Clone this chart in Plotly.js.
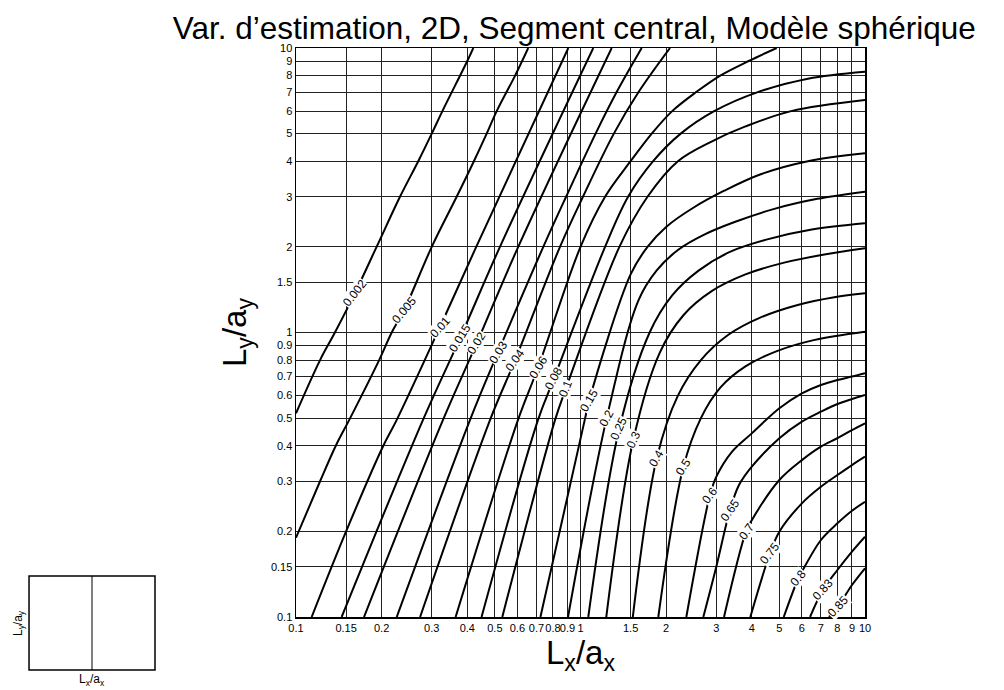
<!DOCTYPE html>
<html>
<head>
<meta charset="utf-8">
<script src="https://cdn.plot.ly/plotly-3.0.1.min.js"></script>
<style>
  html, body { margin: 0; padding: 0; background: #fff; }
  #plot { width: 1004px; height: 690px; }
</style>
</head>
<body>
<div id="plot"></div>
<script>
// Contour levels and where their labels sit
const levels = [0.002, 0.005, 0.01, 0.015, 0.02, 0.03, 0.04, 0.06, 0.08, 0.1, 0.15,
  0.2, 0.25, 0.3, 0.4, 0.5, 0.6, 0.65, 0.7, 0.75, 0.8, 0.83, 0.85];
const labelX = [0.161, 0.24, 0.321, 0.377, 0.4316, 0.514, 0.589, 0.711, 0.807, 0.889, 1.074,
  1.236, 1.369, 1.533, 1.853, 2.298, 2.852, 3.354, 3.817, 4.636, 5.83, 7.135, 8.06];
const labelY = [1.373, 1.2, 1.048, 0.954, 0.916, 0.856, 0.80, 0.758, 0.69, 0.636, 0.579,
  0.50, 0.46, 0.419, 0.361, 0.336, 0.2685, 0.2378, 0.1995, 0.1675, 0.1368, 0.1251, 0.1093];

// Points along each contour (Lx/ax, Ly/ay)
const c0002x = [0.1, 0.1215, 0.137, 0.161, 0.192, 0.232, 0.269, 0.3, 0.327, 0.4, 0.42];
const c0002y = [0.52, 0.8, 1, 1.373, 2, 3, 4, 5, 6, 9, 10];
const c0005x = [0.1, 0.1215, 0.138, 0.155, 0.196, 0.217, 0.24, 0.3, 0.367, 0.422, 0.468, 0.5075, 0.589, 0.655];
const c0005y = [0.19, 0.3, 0.4, 0.5, 0.8, 1, 1.2, 2, 3, 4, 5, 6, 8, 10];
const c001x = [0.1135, 0.15, 0.2027, 0.226, 0.321, 0.43, 0.906];
const c001y = [0.1, 0.2, 0.4, 0.493, 1.048, 2, 10];
const c0015x = [0.1447, 0.2795, 0.377, 0.521, 1.109];
const c0015y = [0.1, 0.493, 0.954, 2, 10];
const c002x = [0.1734, 0.3286, 0.4316, 0.604, 1.287];
const c002y = [0.1, 0.493, 0.916, 2, 10];
const c003x = [0.226, 0.409, 0.514, 0.74, 0.89, 1.13, 1.34, 1.641];
const c003y = [0.1, 0.493, 0.856, 2, 3, 5, 7, 10];
const c004x = [0.273, 0.481, 0.589, 0.847, 1.02, 1.31, 1.6, 2.064];
const c004y = [0.1, 0.493, 0.80, 2, 3, 5, 7, 10];
const c006x = [0.364, 0.603, 0.711, 1.0, 1.22, 1.5, 1.78, 2.1, 2.55, 3.1, 3.9, 4.893];
const c006y = [0.1, 0.493, 0.758, 2.0, 3, 4, 5, 6, 7, 8, 9, 10];
const c008x = [0.449, 0.709, 0.807, 1.22, 1.47, 1.8, 2.25, 2.95, 4.2, 6.3, 10];
const c008y = [0.1, 0.493, 0.69, 2.0, 3, 4, 5, 6, 7, 7.8, 8.25];
const c01x = [0.531, 0.814, 0.889, 1.37, 1.72, 2.2, 2.9, 3.8, 5.5, 10];
const c01y = [0.1, 0.493, 0.636, 2.0, 3, 4, 4.7, 5.3, 6, 6.56];
const c015x = [0.723, 1.035, 1.074, 1.5, 1.72, 2.0, 2.5, 3.2, 4.3, 6.3, 10];
const c015y = [0.1, 0.493, 0.579, 1.6, 2.0, 2.35, 2.75, 3.15, 3.6, 4.0, 4.265];
const c02x = [0.904, 1.236, 1.6, 1.85, 2.2, 2.7, 3.5, 4.8, 6.8, 10];
const c02y = [0.1, 0.50, 1.3, 1.65, 1.95, 2.2, 2.45, 2.72, 2.95, 3.126];
const c025x = [1.065, 1.369, 1.75, 2.1, 2.6, 3.35, 4.5, 6.5, 10];
const c025y = [0.1, 0.46, 1.0, 1.35, 1.65, 1.92, 2.12, 2.3, 2.42];
const c03x = [1.232, 1.533, 1.9, 2.3, 2.9, 3.8, 5.2, 7.2, 10];
const c03y = [0.1, 0.419, 0.85, 1.15, 1.4, 1.6, 1.76, 1.88, 1.977];
const c04x = [1.527, 1.853, 2.2, 2.65, 3.3, 4.3, 5.8, 7.8, 10];
const c04y = [0.1, 0.361, 0.6, 0.8, 0.98, 1.13, 1.25, 1.33, 1.373];
const c05x = [1.877, 2.298, 2.65, 3.1, 3.8, 4.9, 6.6, 10];
const c05y = [0.1, 0.336, 0.5, 0.64, 0.76, 0.86, 0.94, 1.006];
const c06x = [2.355, 2.852, 3, 3.4, 4, 5, 6, 7, 8, 9, 10];
const c06y = [0.1, 0.2685, 0.311, 0.38, 0.442, 0.5415, 0.611, 0.654, 0.681, 0.70, 0.719];
const c065x = [2.702, 3, 3.354, 3.6, 4, 5, 6, 7, 8, 9, 10];
const c065y = [0.1, 0.15, 0.2378, 0.29, 0.3375, 0.4247, 0.4858, 0.5267, 0.5607, 0.5838, 0.603];
const c07x = [3.195, 3.817, 4, 5, 6, 7, 8, 9, 10];
const c07y = [0.1, 0.1995, 0.219, 0.303, 0.356, 0.397, 0.425, 0.454, 0.4795];
const c075x = [3.953, 4.636, 5, 6, 7, 8, 9, 10];
const c075y = [0.1, 0.1675, 0.1995, 0.2509, 0.287, 0.3155, 0.342, 0.366];
const c08x = [5.18, 5.83, 6, 7, 8, 9, 10];
const c08y = [0.1, 0.1368, 0.1443, 0.1865, 0.2134, 0.2363, 0.254];
const c083x = [6.41, 7.135, 8, 9, 10];
const c083y = [0.1, 0.1251, 0.1463, 0.1697, 0.1915];
const c085x = [7.47, 8.06, 9, 10];
const c085y = [0.1, 0.1093, 0.1296, 0.1483];

const contourX = [c0002x, c0005x, c001x, c0015x, c002x, c003x, c004x, c006x, c008x, c01x, c015x,
  c02x, c025x, c03x, c04x, c05x, c06x, c065x, c07x, c075x, c08x, c083x, c085x];
const contourY = [c0002y, c0005y, c001y, c0015y, c002y, c003y, c004y, c006y, c008y, c01y, c015y,
  c02y, c025y, c03y, c04y, c05y, c06y, c065y, c07y, c075y, c08y, c083y, c085y];

// Tick values shared by both log axes
const tickVals = [0.1, 0.15, 0.2, 0.3, 0.4, 0.5, 0.6, 0.7, 0.8, 0.9, 1, 1.5, 2, 3, 4, 5, 6, 7, 8, 9, 10];
const tickText = ['0.1', '0.15', '0.2', '0.3', '0.4', '0.5', '0.6', '0.7', '0.8', '0.9', '1',
  '1.5', '2', '3', '4', '5', '6', '7', '8', '9', '10'];

// label rotation (degrees), style only
const labelAngle = [-52, -50, -48, -58, -58, -58, -55, -58, -62, -68, -60,
  -62, -65, -65, -60, -58, -52, -55, -55, -52, -50, -48, -47];

const FONT = 'Liberation Sans, Arial, Helvetica, sans-serif';

const traces = levels.map((lv, i) => ({
  x: contourX[i],
  y: contourY[i],
  type: 'scatter',
  mode: 'lines',
  name: String(lv),
  line: { color: '#000', width: 2, shape: 'spline', smoothing: 1 },
  hoverinfo: 'skip',
  showlegend: false
}));

const annotations = levels.map((lv, i) => ({
  x: Math.log10(labelX[i]),
  y: Math.log10(labelY[i]),
  xref: 'x', yref: 'y',
  text: String(lv),
  showarrow: false,
  textangle: labelAngle[i],
  bgcolor: '#fff',
  borderpad: 0,
  font: { family: FONT, size: 12, color: '#000' }
}));

// small inset sketch at bottom left
annotations.push({
  xref: 'paper', yref: 'paper', x: -0.488, y: -0.01,
  xanchor: 'center', yanchor: 'middle',
  text: 'L<sub>y</sub>/a<sub>y</sub>', textangle: -90, showarrow: false,
  font: { family: FONT, size: 12, color: '#000' }
});
annotations.push({
  xref: 'paper', yref: 'paper', x: -0.3585, y: -0.093,
  xanchor: 'center', yanchor: 'top',
  text: 'L<sub>x</sub>/a<sub>x</sub>', showarrow: false,
  font: { family: FONT, size: 12, color: '#000' }
});

const shapes = [
  { type: 'rect', xref: 'paper', yref: 'paper', x0: -0.4692, x1: -0.2478, y0: -0.0931, y1: 0.0721,
    line: { color: '#000', width: 1.5 } },
  { type: 'line', xref: 'paper', yref: 'paper', x0: -0.3585, x1: -0.3585, y0: -0.0931, y1: 0.0721,
    line: { color: '#000', width: 1 } }
];

const axisBase = {
  type: 'log',
  range: [-1, 1],
  tickvals: tickVals,
  ticktext: tickText,
  tickangle: 0,
  showgrid: true,
  gridcolor: '#222',
  gridwidth: 1,
  showline: true,
  mirror: true,
  linecolor: '#000',
  linewidth: 1.5,
  ticks: '',
  zeroline: false,
  automargin: false,
  tickfont: { family: FONT, size: 11, color: '#000' }
};

const layout = {
  width: 1004,
  height: 690,
  margin: { l: 296, r: 139, t: 48, b: 73 },
  paper_bgcolor: '#fff',
  plot_bgcolor: '#fff',
  title: {
    text: 'Var. d\u2019estimation, 2D, Segment central, Modèle sphérique',
    font: { family: FONT, size: 31.5, color: '#000' },
    x: 0.572, xref: 'container', xanchor: 'center',
    y: 0.96, yref: 'container', yanchor: 'middle'
  },
  xaxis: Object.assign({}, axisBase, {
    title: { text: 'L<sub>x</sub>/a<sub>x</sub>', font: { family: FONT, size: 33, color: '#000' }, standoff: 2 }
  }),
  yaxis: Object.assign({}, axisBase, {
    title: { text: 'L<sub>y</sub>/a<sub>y</sub>', font: { family: FONT, size: 33, color: '#000' }, standoff: 14 }
  }),
  annotations: annotations,
  shapes: shapes,
  showlegend: false
};

Plotly.newPlot('plot', traces, layout, { displayModeBar: false, staticPlot: true });
</script>
</body>
</html>
